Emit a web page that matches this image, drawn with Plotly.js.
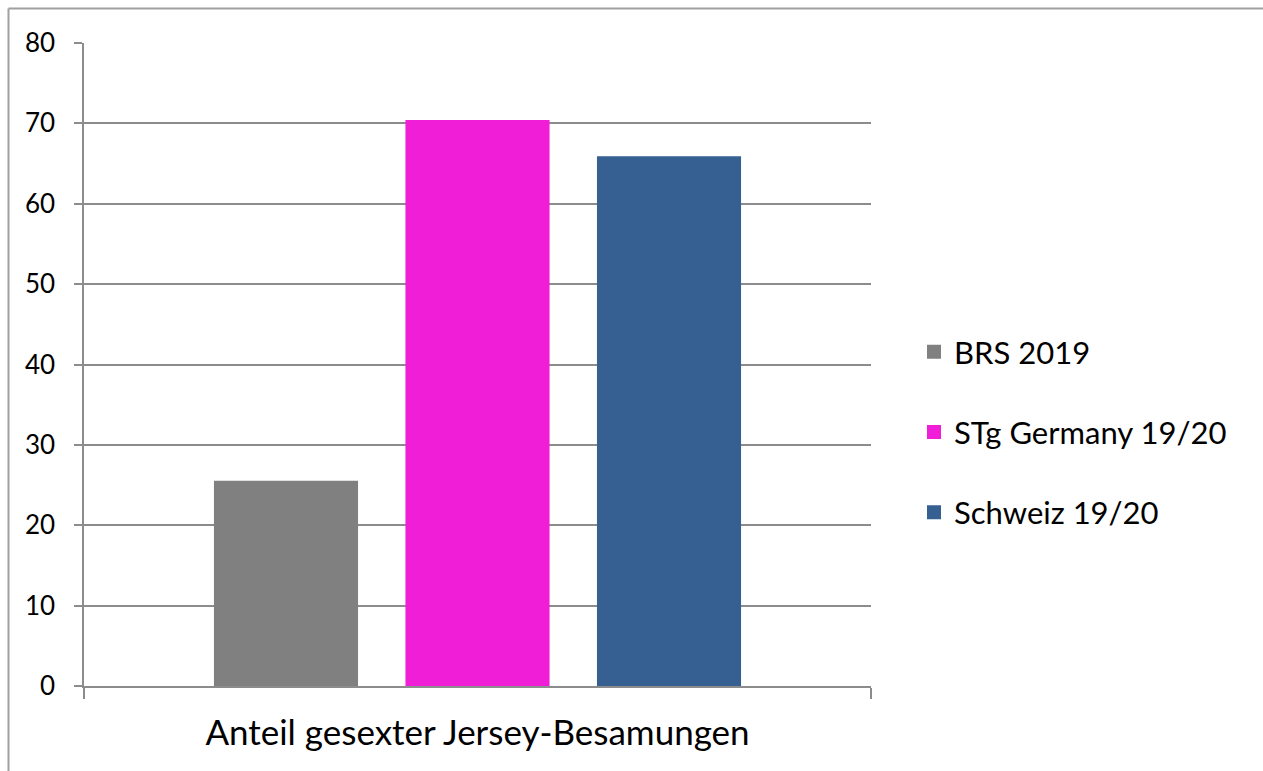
<!DOCTYPE html>
<html>
<head>
<meta charset="utf-8">
<script src="https://cdn.plot.ly/plotly-3.0.1.min.js"></script>
<style>html,body{margin:0;padding:0;background:#fff;}#chart{width:1263px;height:771px;}</style>
</head>
<body>
<div id="chart"></div>
<script>
var categories = ["Anteil gesexter Jersey-Besamungen"];
var seriesNames = ["BRS 2019", "STg Germany 19/20", "Schweiz 19/20"];
var seriesValues = [[25.4], [70.3], [65.8]];
var seriesColors = ["#808080", "#f01ed6", "#376092"];
var yTicks = [0, 10, 20, 30, 40, 50, 60, 70, 80];

var FONT = "Lato, 'Open Sans', sans-serif";
var traces = seriesNames.map(function (name, i) {
  return {
    type: "bar",
    name: name,
    x: categories,
    y: seriesValues[i],
    legendgroup: "g" + i,
    marker: { color: seriesColors[i], line: { width: 2, color: seriesColors[i] } },
    hoverinfo: "x+y+name"
  };
});

var W = 1263, H = 771, L = 84, R = 871, T = 43, B = 686;
function px(x) { return (x - L) / (R - L); }
function py(y) { return (B - y) / (B - T); }

var layout = {
  width: W, height: H,
  margin: { l: L, r: W - R, t: T, b: H - B, pad: 0 },
  paper_bgcolor: "#ffffff",
  plot_bgcolor: "#ffffff",
  barmode: "group",
  bargap: 0.27,
  bargroupgap: 0.258,
  font: { family: FONT, color: "#000000" },
  showlegend: true,
  legend: {
    x: px(914), xanchor: "left",
    y: py(432), yanchor: "middle",
    font: { family: FONT, size: 31, color: "#000000" },
    tracegroupgap: 37,
    itemclick: false, itemdoubleclick: false,
    bgcolor: "rgba(0,0,0,0)"
  },
  xaxis: {
    type: "category",
    range: [-0.5, 0.5],
    showline: true, linecolor: "#8c8c8c", linewidth: 1.5,
    ticks: "outside", tickson: "boundaries", ticklen: 11, tickcolor: "#8c8c8c", tickwidth: 1.5,
    showgrid: false, zeroline: false,
    tickfont: { family: FONT, size: 35, color: "#000000" },
    ticklabelstandoff: 15
  },
  yaxis: {
    range: [0, 80],
    tickvals: yTicks,
    ticktext: yTicks.map(String),
    showline: true, linecolor: "#8c8c8c", linewidth: 1.5,
    ticks: "outside", ticklen: 8, tickcolor: "#8c8c8c", tickwidth: 1.5,
    showgrid: true, gridcolor: "#8c8c8c", gridwidth: 1.5,
    zeroline: false,
    tickfont: { family: FONT, size: 26, color: "#000000" },
    ticklabelstandoff: 14
  },
  shapes: [
    { type: "line", xref: "paper", yref: "paper", x0: px(8.5), x1: px(8.5), y0: py(8.5), y1: py(800), line: { color: "#a0a0a0", width: 2 } },
    { type: "line", xref: "paper", yref: "paper", x0: px(8.5), x1: px(1300), y0: py(8.5), y1: py(8.5), line: { color: "#a0a0a0", width: 2 } }
  ]
};

Plotly.newPlot("chart", traces, layout, { displayModeBar: false, staticPlot: false });
</script>
</body>
</html>
